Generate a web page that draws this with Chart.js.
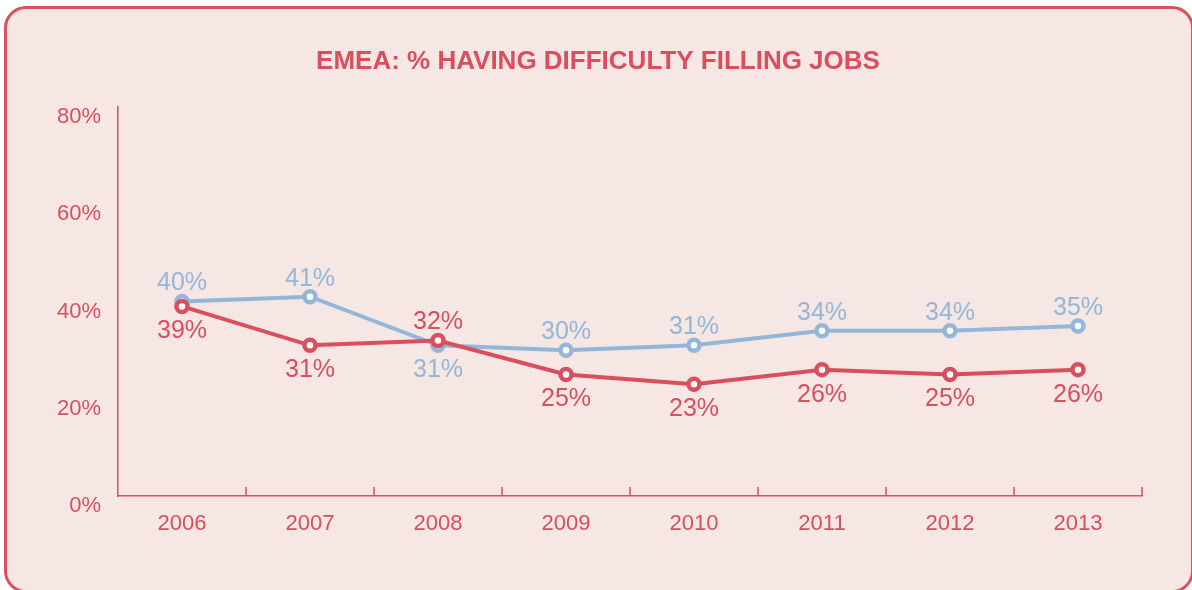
<!DOCTYPE html>
<html>
<head>
<meta charset="utf-8">
<script src="https://cdn.jsdelivr.net/npm/chart.js@4.4.0/dist/chart.umd.min.js"></script>
<style>
  html, body { margin: 0; padding: 0; background: #fff; }
  #wrap { position: relative; width: 1192px; height: 590px; overflow: hidden; }
  #panel {
    position: absolute; left: 4px; top: 6px; width: 1190px; height: 587px;
    box-sizing: border-box; border: 3px solid #d94f5d; border-radius: 22px;
    background: #f6e6e4;
  }
  canvas { position: absolute; left: 0; top: 0; }
</style>
</head>
<body>
<div id="wrap">
  <div id="panel"></div>
  <canvas id="chart" width="1192" height="590"></canvas>
</div>
<script>
// chart data
const years = ['2006', '2007', '2008', '2009', '2010', '2011', '2012', '2013'];
const redValues = [39, 31, 32, 25, 23, 26, 25, 26];
const blueValues = [40, 41, 31, 30, 31, 34, 34, 35];
const yTicks = [0, 20, 40, 60, 80];
const chartTitle = 'EMEA: % HAVING DIFFICULTY FILLING JOBS';

const RED = '#d94f5d';
const BLUE = '#94b6d8';
const FONT = '"Liberation Sans", Arial, Helvetica, sans-serif';

// value labels: the higher series of the pair goes above its point, the lower one below
const valueLabels = {
    id: 'valueLabels',
    afterDatasetsDraw(chart) {
        const ctx = chart.ctx;
        const sets = chart.data.datasets;
        ctx.save();
        ctx.font = '25px ' + FONT;
        ctx.textAlign = 'center';
        ctx.textBaseline = 'middle';
        sets.forEach((ds, i) => {
            const meta = chart.getDatasetMeta(i);
            meta.data.forEach((pt, j) => {
                const other = sets[1 - i].data[j];
                const above = ds.data[j] >= other;
                ctx.fillStyle = ds.borderColor;
                ctx.fillText(ds.data[j] + '%', pt.x, above ? pt.y - 18 : pt.y + 25);
            });
        });
        ctx.restore();
    }
};

// small upward tick marks between the categories on the x axis
const xTickMarks = {
    id: 'xTickMarks',
    afterDraw(chart) {
        const xs = chart.scales.x;
        const ctx = chart.ctx;
        ctx.save();
        ctx.strokeStyle = RED;
        ctx.lineWidth = 1.5;
        for (let i = 1; i <= years.length; i++) {
            const px = xs.getPixelForValue(i - 0.5);
            ctx.beginPath();
            ctx.moveTo(px, xs.top);
            ctx.lineTo(px, xs.top - 9);
            ctx.stroke();
        }
        ctx.restore();
    }
};

new Chart(document.getElementById('chart'), {
    type: 'line',
    data: {
        labels: years,
        datasets: [{
            data: redValues,
            borderColor: RED,
            backgroundColor: '#ffffff',
            borderWidth: 4,
            pointRadius: 5.5,
            pointBorderWidth: 4.5,
            pointBackgroundColor: '#ffffff',
            pointBorderColor: RED,
            tension: 0
        }, {
            data: blueValues,
            borderColor: BLUE,
            backgroundColor: '#ffffff',
            borderWidth: 4,
            pointRadius: 5.5,
            pointBorderWidth: 4.5,
            pointBackgroundColor: '#ffffff',
            pointBorderColor: BLUE,
            tension: 0
        }]
    },
    options: {
        responsive: false,
        animation: false,
        layout: { padding: { left: 54, right: 50, top: 0, bottom: 0 } },
        plugins: {
            legend: { display: false },
            tooltip: { enabled: false },
            title: {
                display: true,
                text: chartTitle,
                color: RED,
                font: { family: FONT, size: 26, weight: 'bold' },
                padding: { top: 46, bottom: 30 }
            }
        },
        scales: {
            x: {
                offset: true,
                grid: { display: true, drawOnChartArea: false, drawTicks: false },
                border: { display: true, color: RED, width: 1.5 },
                ticks: { color: RED, padding: 15, font: { family: FONT, size: 22 } },
                afterFit(scale) { scale.height = 94; }
            },
            y: {
                min: yTicks[0],
                max: yTicks[yTicks.length - 1],
                afterBuildTicks(scale) { scale.ticks = yTicks.map(v => ({ value: v })); },
                grid: { display: true, drawOnChartArea: false, drawTicks: false },
                border: { display: true, color: RED, width: 1.5 },
                ticks: {
                    color: RED,
                    padding: 17,
                    labelOffset: 10,
                    font: { family: FONT, size: 22 },
                    callback: v => v + '%'
                },
                afterFit(scale) { scale.width = 64; }
            }
        }
    },
    plugins: [valueLabels, xTickMarks]
});
</script>
</body>
</html>
